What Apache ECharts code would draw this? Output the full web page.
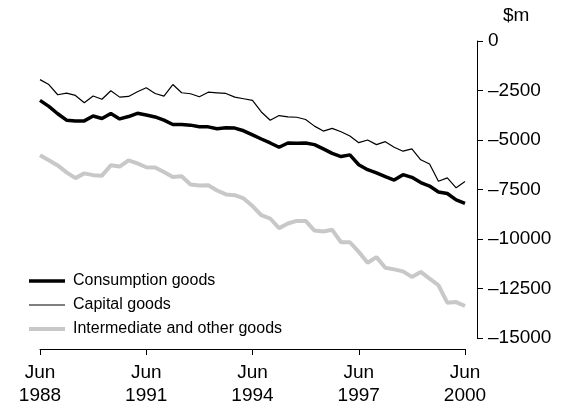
<!DOCTYPE html>
<html>
<head>
<meta charset="utf-8">
<title>Imports by broad economic category</title>
<script src="https://cdn.jsdelivr.net/npm/echarts@6/dist/echarts.min.js"></script>
<style>
  html, body { margin: 0; padding: 0; background: #fff; }
  #chart { width: 573px; height: 407px; }
</style>
</head>
<body>
<div id="chart"></div>
<script>
// quarterly, Jun 1988 to Jun 2000 ($m)
const quarterNames = ['Mar', 'Jun', 'Sep', 'Dec'];
const categories = [];
for (let q = 1; q <= 49; q++) {
  categories.push(quarterNames[q % 4] + ' ' + (1988 + Math.floor(q / 4)));
}

const consumption = [
  -3000, -3300, -3675, -4000, -4040, -4035, -3790, -3915, -3665, -3935,
  -3815, -3650, -3735, -3835, -4000, -4215, -4215, -4250, -4335, -4335,
  -4435, -4385, -4400, -4535, -4740, -4950, -5150, -5365, -5150, -5165,
  -5150, -5235, -5450, -5675, -5835, -5750, -6250, -6500, -6665, -6850,
  -7025, -6750, -6885, -7150, -7325, -7625, -7700, -8025, -8200
];
const capital = [
  -1950, -2200, -2715, -2635, -2750, -3115, -2775, -2940, -2515, -2835,
  -2800, -2565, -2365, -2650, -2785, -2200, -2615, -2665, -2815, -2585,
  -2615, -2650, -2835, -2915, -3000, -3585, -4000, -3765, -3835, -3850,
  -3965, -4300, -4550, -4415, -4585, -4800, -5135, -5000, -5235, -5085,
  -5365, -5565, -5450, -6000, -6215, -7085, -6915, -7415, -7100
];
const intermediate = [
  -5775, -6025, -6285, -6635, -6925, -6685, -6775, -6800, -6275, -6340,
  -6025, -6185, -6375, -6385, -6615, -6865, -6835, -7250, -7300, -7285,
  -7550, -7750, -7785, -7950, -8335, -8800, -8965, -9450, -9215, -9085,
  -9085, -9575, -9625, -9535, -10165, -10165, -10650, -11200, -10915, -11450,
  -11535, -11635, -11915, -11665, -12000, -12335, -13215, -13185, -13385
];

const xTickLabels = ['Jun\n1988', 'Jun\n1991', 'Jun\n1994', 'Jun\n1997', 'Jun\n2000'];
const yTickLabels = ['0', '–2500', '–5000', '–7500', '–10000', '–12500', '–15000'];

const chart = echarts.init(document.getElementById('chart'));
const font = 'Liberation Sans';

// legend keys are flat bars, thickness matching each line
function barIcon(h) {
  return 'path://M0,0H360V' + h + 'H0Z';
}

chart.setOption({
  animation: false,
  textStyle: { fontFamily: font, color: '#000' },
  grid: { left: 40, right: 108, top: 41, bottom: 68 },
  legend: {
    orient: 'vertical',
    left: 24,
    top: 268,
    itemWidth: 36,
    itemHeight: 14,
    itemGap: 8,
    symbolKeepAspect: true,
    data: [
      { name: 'Consumption goods', icon: barIcon(35) },
      { name: 'Capital goods', icon: barIcon(12) },
      { name: 'Intermediate and other goods', icon: barIcon(40) }
    ],
    textStyle: { fontFamily: font, fontSize: 16, color: '#000', padding: [0, 0, 0, 3] }
  },
  xAxis: {
    type: 'category',
    data: categories,
    boundaryGap: false,
    offset: 11,
    axisLine: { onZero: false, lineStyle: { color: '#000', width: 1 } },
    axisTick: { interval: 11, length: 6, lineStyle: { color: '#000' } },
    axisLabel: {
      interval: 11,
      margin: 12,
      fontSize: 19,
      lineHeight: 23,
      color: '#000',
      formatter: (value, idx) => xTickLabels[idx / 12]
    },
    splitLine: { show: false }
  },
  yAxis: {
    type: 'value',
    position: 'right',
    min: -15000,
    max: 0,
    interval: 2500,
    offset: 12,
    name: '$m',
    nameLocation: 'end',
    nameGap: 16,
    nameTextStyle: { fontFamily: font, fontSize: 19, color: '#000', align: 'left', padding: [0, 0, 0, 26] },
    axisLine: { show: true, onZero: false, lineStyle: { color: '#000', width: 1 } },
    axisTick: { show: true, length: 6, lineStyle: { color: '#000' } },
    axisLabel: {
      margin: 11,
      fontSize: 19,
      color: '#000',
      formatter: (value) => yTickLabels[Math.round(-value / 2500)]
    },
    splitLine: { show: false }
  },
  series: [
    {
      name: 'Intermediate and other goods',
      type: 'line',
      data: intermediate,
      symbol: 'none',
      lineStyle: { color: '#c8c8c8', width: 4 },
      itemStyle: { color: '#c8c8c8' }
    },
    {
      name: 'Capital goods',
      type: 'line',
      data: capital,
      symbol: 'none',
      lineStyle: { color: '#000', width: 1.2 },
      itemStyle: { color: '#000' }
    },
    {
      name: 'Consumption goods',
      type: 'line',
      data: consumption,
      symbol: 'none',
      lineStyle: { color: '#000', width: 3.5 },
      itemStyle: { color: '#000' }
    }
  ]
});
</script>
</body>
</html>
